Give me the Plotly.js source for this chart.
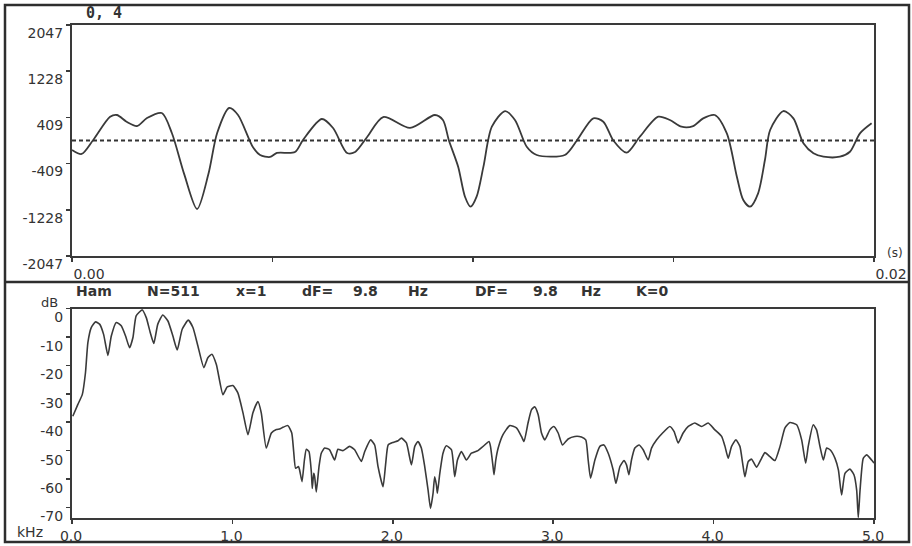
<!DOCTYPE html>
<html>
<head>
<meta charset="utf-8">
<script src="https://cdn.plot.ly/plotly-3.0.1.min.js"></script>
<style>html,body{margin:0;padding:0;background:#fff;}#chart{width:912px;height:546px;}</style>
</head>
<body>
<div id="chart"></div>
<script>
// ---------- DATA ----------
// Top panel: waveform (time in seconds, amplitude in counts)
const waveTimeMs = [0.00,0.24,0.52,0.95,1.12,1.36,1.62,1.87,2.24,2.49,2.80,3.12,3.40,3.62,3.92,4.14,4.51,4.69,4.94,5.11,5.56,5.76,6.23,6.51,6.86,7.06,7.36,7.76,8.43,9.05,9.25,9.40,9.63,9.80,9.94,10.09,10.26,10.47,10.80,11.05,11.34,11.59,12.29,12.59,13.00,13.25,13.50,13.83,14.16,14.62,14.91,15.20,15.49,15.74,16.03,16.33,16.58,16.74,16.91,17.11,17.28,17.41,17.74,17.99,18.24,18.49,18.74,19.15,19.40,19.65,19.94];
const waveValue  = [-168,-239,0,420,452,333,257,399,487,133,-600,-1214,-600,133,576,452,-115,-257,-292,-221,-204,9,381,222,-221,-204,62,416,222,452,363,0,-464,-996,-1173,-996,-464,245,522,360,-110,-257,-257,0,393,333,0,-216,67,422,363,244,256,393,452,127,-641,-1054,-1173,-936,-346,186,522,393,-50,-227,-287,-287,-199,127,305];
const waveTicks = [2047,1228,409,-409,-1228,-2047];
const waveTickText = ['2047','1228','409','-409','-1228','-2047'];
const timeTicks = [0,0.005,0.01,0.015,0.02];
const timeTickText = ['0.00','','','','0.02'];

// Bottom panel: spectrum (frequency kHz, level dB)
const specFreq = [0.005,0.036,0.064,0.084,0.099,0.12,0.147,0.172,0.197,0.224,0.245,0.276,0.307,0.334,0.359,0.38,0.40,0.438,0.463,0.488,0.51,0.535,0.566,0.598,0.629,0.656,0.687,0.725,0.754,0.785,0.822,0.847,0.872,0.90,0.941,0.968,1.003,1.034,1.066,1.097,1.128,1.159,1.18,1.211,1.243,1.274,1.294,1.315,1.346,1.37,1.382,1.394,1.412,1.419,1.434,1.449,1.461,1.477,1.492,1.498,1.507,1.513,1.523,1.54,1.554,1.575,1.606,1.637,1.658,1.689,1.731,1.762,1.804,1.825,1.862,1.887,1.908,1.939,1.956,1.971,2.002,2.033,2.054,2.085,2.116,2.137,2.157,2.178,2.199,2.22,2.235,2.251,2.261,2.272,2.278,2.293,2.313,2.334,2.366,2.386,2.403,2.428,2.459,2.49,2.531,2.563,2.60,2.609,2.625,2.631,2.642,2.657,2.687,2.729,2.771,2.802,2.818,2.843,2.865,2.885,2.906,2.927,2.948,2.979,3.004,3.031,3.058,3.093,3.135,3.176,3.203,3.218,3.233,3.26,3.291,3.316,3.343,3.374,3.391,3.416,3.441,3.457,3.472,3.488,3.509,3.536,3.561,3.592,3.613,3.645,3.682,3.727,3.754,3.779,3.81,3.842,3.883,3.925,3.966,4.008,4.05,4.071,4.091,4.112,4.139,4.164,4.181,4.195,4.216,4.237,4.268,4.299,4.32,4.351,4.382,4.414,4.445,4.476,4.518,4.549,4.574,4.59,4.621,4.642,4.663,4.684,4.705,4.726,4.757,4.778,4.798,4.819,4.85,4.875,4.892,4.902,4.913,4.933,4.954,4.985,5.0];
const specDb = [-37.9,-33.8,-30.3,-22.6,-12.0,-6.7,-4.7,-5.5,-9.1,-16.5,-9.7,-4.9,-6.1,-9.7,-13.8,-10.2,-2.6,-0.5,-3.2,-8.5,-12.3,-5.5,-2.3,-4.4,-9.7,-14.6,-7.3,-4.1,-6.7,-13.2,-20.8,-17.3,-16.1,-19.7,-30.3,-27.6,-27.1,-29.7,-36.7,-44.4,-36.7,-32.7,-36.7,-49.1,-43.8,-42.6,-42.4,-41.8,-41.2,-43.8,-50.3,-56.2,-55.6,-56.8,-60.9,-53.3,-49.5,-50.3,-57.4,-63.3,-58.0,-59.2,-64.5,-55.6,-50.9,-49.1,-49.7,-53.3,-49.5,-50.0,-48.5,-49.7,-53.8,-50.3,-46.2,-48.0,-55.6,-62.7,-54.4,-48.0,-47.1,-46.5,-45.6,-47.3,-55.0,-48.5,-46.8,-49.1,-55.6,-63.9,-70.3,-65.0,-59.2,-62.1,-65.0,-58.0,-50.9,-48.3,-49.7,-59.2,-53.3,-50.3,-53.3,-50.9,-50.0,-48.5,-46.8,-48.5,-55.6,-58.5,-53.3,-49.1,-44.4,-41.2,-42.0,-45.0,-46.8,-40.3,-35.6,-34.6,-37.3,-43.8,-46.2,-42.7,-41.5,-43.8,-48.0,-45.9,-45.0,-45.2,-46.2,-53.3,-59.7,-53.3,-48.5,-48.0,-50.9,-56.8,-61.5,-55.6,-53.5,-55.0,-58.5,-53.3,-49.1,-48.0,-49.7,-53.3,-49.1,-46.2,-43.8,-41.5,-43.3,-47.3,-43.8,-41.5,-40.3,-41.5,-40.3,-42.7,-45.0,-48.5,-52.7,-48.5,-46.2,-48.5,-54.4,-59.2,-53.8,-53.0,-55.8,-52.7,-50.7,-52.1,-53.5,-48.5,-42.0,-40.1,-40.9,-46.2,-54.4,-48.5,-40.9,-42.7,-48.5,-53.3,-49.1,-49.7,-52.7,-56.8,-65.6,-58.0,-56.5,-58.5,-63.9,-73.5,-63.9,-52.7,-51.5,-53.3,-54.4];
const dbTicks = [0,-10,-20,-30,-40,-50,-60,-70];
const dbTickText = ['0','-10','-20','-30','-40','-50','-60','-70'];
const freqTicks = [0,1,2,3,4,5];
const freqTickText = ['0.0','1.0','2.0','3.0','4.0','5.0'];

const topTitle = '0, 4';
const headerTokens = ['Ham','N=511','x=1','dF=','9.8','Hz','DF=','9.8','Hz','K=0'];

// ---------- LAYOUT ----------
const W = 912, H = 546;
const M = {l: 72, r: 38, t: 25, b: 28};
const PW = W - M.l - M.r, PH = H - M.t - M.b;
const px = x => (x - M.l) / PW;          // pixel x -> paper x
const py = y => (H - M.b - y) / PH;      // pixel y -> paper y

const ink = '#333333';
const lineCol = '#3a3a3a';
const tickFont = {family: 'DejaVu Sans, sans-serif', size: 14, color: ink};

const waveTime = waveTimeMs.map(v => v / 1000);

const traces = [
  {x: waveTime, y: waveValue, xaxis: 'x', yaxis: 'y', type: 'scatter', mode: 'lines',
   line: {color: lineCol, width: 1.8, shape: 'spline', smoothing: 0.8}, hoverinfo: 'skip'},
  {x: specFreq, y: specDb, xaxis: 'x2', yaxis: 'y2', type: 'scatter', mode: 'lines',
   line: {color: lineCol, width: 1.6, shape: 'spline', smoothing: 0.5}, hoverinfo: 'skip'}
];

const axBase = {showline: true, mirror: true, linecolor: lineCol, linewidth: 2,
  showgrid: false, zeroline: false, ticks: 'outside', ticklen: 4, tickwidth: 1.5,
  tickcolor: lineCol, tickmode: 'array', tickfont: tickFont, fixedrange: true};

const headerX = [94, 173, 251, 317, 365, 418, 491, 545, 591, 652];
const annotations = [
  {text: '<b>' + topTitle + '</b>', x: px(104), y: py(13), xref: 'paper', yref: 'paper',
   xanchor: 'center', yanchor: 'middle', showarrow: false,
   font: {family: 'DejaVu Sans Mono, monospace', size: 15, color: ink}},
  {text: '(s)', x: px(895), y: py(253), xref: 'paper', yref: 'paper',
   xanchor: 'center', yanchor: 'middle', showarrow: false,
   font: {family: 'DejaVu Sans, sans-serif', size: 12, color: ink}},
  {text: 'kHz', x: px(30), y: py(532), xref: 'paper', yref: 'paper',
   xanchor: 'center', yanchor: 'middle', showarrow: false, font: tickFont},
  {text: 'dB', x: px(49), y: py(302), xref: 'paper', yref: 'paper',
   xanchor: 'center', yanchor: 'middle', showarrow: false,
   font: {family: 'DejaVu Sans, sans-serif', size: 13, color: ink}}
];
headerTokens.forEach((t, i) => annotations.push({
  text: '<b>' + t + '</b>', x: px(headerX[i]), y: py(291), xref: 'paper', yref: 'paper',
  xanchor: 'center', yanchor: 'middle', showarrow: false,
  font: {family: 'DejaVu Sans, sans-serif', size: 14, color: ink}
}));

const frame = {color: '#2e2e2e', width: 2.5};
const shapes = [
  {type: 'rect', xref: 'paper', yref: 'paper', x0: px(5), x1: px(909), y0: py(542), y1: py(5), line: frame},
  {type: 'line', xref: 'paper', yref: 'paper', x0: px(5), x1: px(909), y0: py(282), y1: py(282), line: frame},
  {type: 'line', xref: 'x', yref: 'y', x0: 0, x1: 0.02, y0: 0, y1: 0,
   line: {color: ink, width: 2, dash: '4px,3px'}}
];

const layout = {
  width: W, height: H, margin: M, showlegend: false,
  paper_bgcolor: '#ffffff', plot_bgcolor: '#ffffff',
  font: tickFont,
  xaxis: Object.assign({}, axBase, {domain: [0, 1], anchor: 'y', range: [0, 0.02],
    tickvals: timeTicks, ticktext: timeTickText, ticklabelshift: 17}),
  yaxis: Object.assign({}, axBase, {domain: [py(256), 1], anchor: 'x', range: [-2047, 2047],
    tickvals: waveTicks, ticktext: waveTickText, ticklabelshift: 8}),
  xaxis2: Object.assign({}, axBase, {domain: [0, 1], anchor: 'y2', range: [0, 5],
    tickvals: freqTicks, ticktext: freqTickText, ticklabelshift: -1}),
  yaxis2: Object.assign({}, axBase, {domain: [0, py(308.5)], anchor: 'x2', range: [-73.7, 0],
    tickvals: dbTicks, ticktext: dbTickText, ticklabelshift: 9}),
  annotations: annotations,
  shapes: shapes
};

Plotly.newPlot('chart', traces, layout, {displayModeBar: false, staticPlot: true});
</script>
</body>
</html>
